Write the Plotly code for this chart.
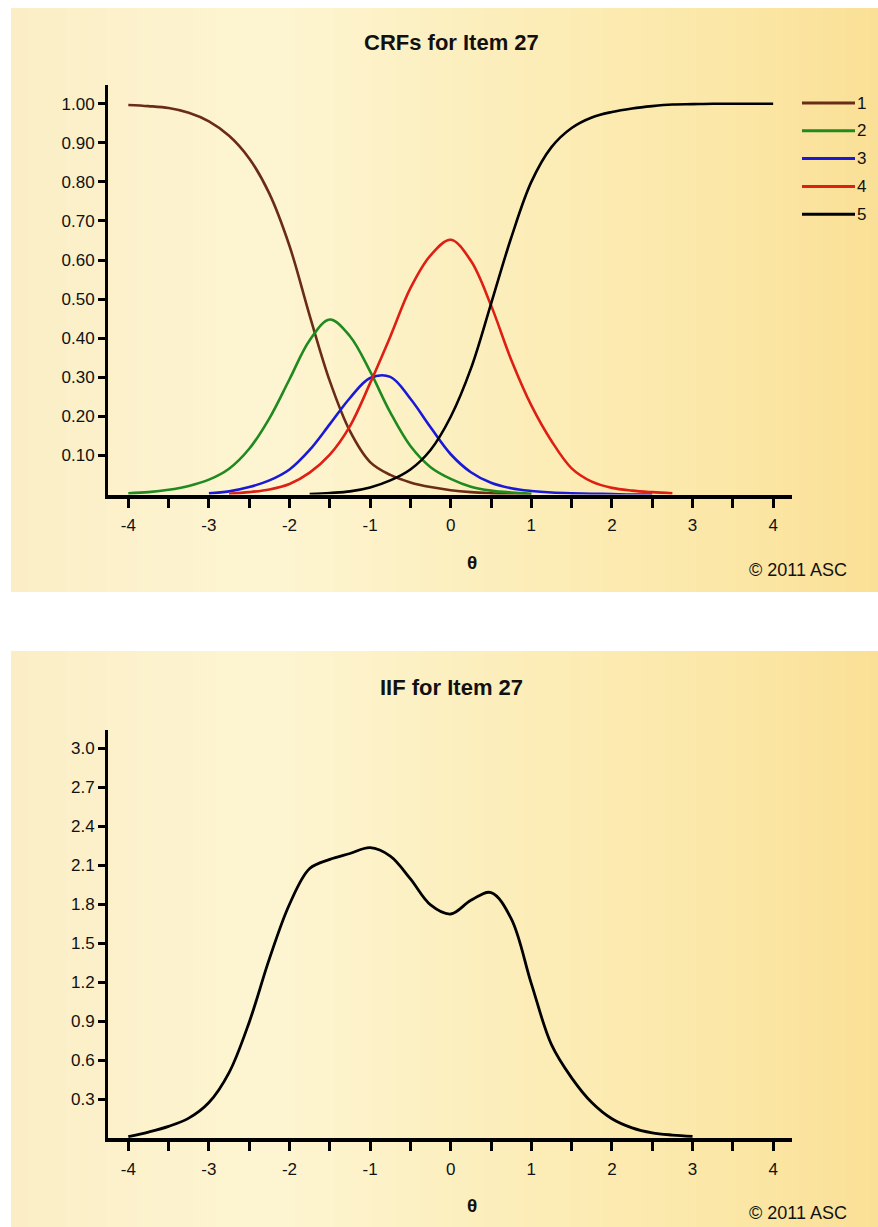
import plotly.graph_objects as go

# ---------------- data ----------------
theta_crf = [-4.0, -3.75, -3.5, -3.25, -3.0, -2.75, -2.5, -2.25, -2.0, -1.75, -1.5, -1.25,
             -1.0, -0.75, -0.5, -0.25, 0.0, 0.25, 0.5, 0.75, 1.0, 1.25, 1.5, 1.75,
             2.0, 2.25, 2.5, 2.75, 3.0, 3.25, 3.5, 3.75, 4.0]

cat1_x = theta_crf[:21]
cat1_y = [0.997, 0.994, 0.989, 0.977, 0.955, 0.918, 0.860, 0.770, 0.636, 0.458, 0.290, 0.162,
          0.083, 0.050, 0.031, 0.019, 0.011, 0.006, 0.003, 0.001, 0.0]

cat2_x = theta_crf[:21]
cat2_y = [0.003, 0.006, 0.012, 0.022, 0.038, 0.066, 0.117, 0.195, 0.295, 0.395, 0.448, 0.405,
          0.315, 0.210, 0.124, 0.070, 0.040, 0.020, 0.010, 0.005, 0.002]

cat3_x = theta_crf[4:27]
cat3_y = [0.003, 0.008, 0.019, 0.036, 0.064, 0.114, 0.180, 0.247, 0.298, 0.301, 0.245, 0.172,
          0.103, 0.057, 0.030, 0.016, 0.009, 0.005, 0.003, 0.002, 0.001, 0.0, 0.0]

cat4_x = theta_crf[5:28]
cat4_y = [0.002, 0.006, 0.013, 0.027, 0.056, 0.102, 0.175, 0.285, 0.404, 0.528, 0.612, 0.652,
          0.598, 0.484, 0.345, 0.228, 0.137, 0.067, 0.033, 0.017, 0.010, 0.006, 0.003]

cat5_x = theta_crf[9:]
cat5_y = [0.001, 0.004, 0.008, 0.018, 0.036, 0.064, 0.114, 0.199, 0.322, 0.488, 0.657, 0.800,
          0.889, 0.938, 0.965, 0.979, 0.988, 0.994, 0.998, 0.999, 1.0, 1.0, 1.0, 1.0]

category_names = ["1", "2", "3", "4", "5"]
category_colors = ["#6a2c16", "#1f8a1f", "#1a1ad6", "#dd1f14", "#000000"]

theta_iif = [-4.0, -3.75, -3.5, -3.25, -3.0, -2.75, -2.5, -2.25, -2.0, -1.75, -1.5, -1.25,
             -1.0, -0.75, -0.5, -0.25, 0.0, 0.25, 0.5, 0.75, 1.0, 1.25, 1.5, 1.75,
             2.0, 2.25, 2.5, 2.75, 3.0]
iif_y = [0.012, 0.048, 0.092, 0.155, 0.275, 0.505, 0.893, 1.380, 1.800, 2.075, 2.145, 2.190,
         2.235, 2.170, 1.995, 1.795, 1.725, 1.830, 1.890, 1.690, 1.190, 0.720, 0.465, 0.275,
         0.150, 0.080, 0.042, 0.025, 0.015]

crf_ticks = [0.1, 0.2, 0.3, 0.4, 0.5, 0.6, 0.7, 0.8, 0.9, 1.0]
iif_ticks = [0.3, 0.6, 0.9, 1.2, 1.5, 1.8, 2.1, 2.4, 2.7, 3.0]
x_ticks = [-4, -3.5, -3, -2.5, -2, -1.5, -1, -0.5, 0, 0.5, 1, 1.5, 2, 2.5, 3, 3.5, 4]

top_title = "CRFs for Item 27"
bottom_title = "IIF for Item 27"
x_title = "θ"
credit = "© 2011 ASC"

# ---------------- layout helpers ----------------
W, H = 878, 1227
FONT = "Liberation Sans, Arial, sans-serif"


def px(x):
    return x / W


def py(y):
    return 1 - y / H


fig = go.Figure()

crf_series = [(cat1_x, cat1_y), (cat2_x, cat2_y), (cat3_x, cat3_y), (cat4_x, cat4_y), (cat5_x, cat5_y)]
for (xs, ys), name, col in zip(crf_series, category_names, category_colors):
    fig.add_trace(go.Scatter(x=xs, y=ys, mode="lines", name=name,
                             line=dict(color=col, width=2.6, shape="spline", smoothing=1.0),
                             xaxis="x", yaxis="y", showlegend=False))

fig.add_trace(go.Scatter(x=theta_iif, y=iif_y, mode="lines", name="IIF",
                         line=dict(color="#000000", width=2.8, shape="spline", smoothing=1.0),
                         xaxis="x2", yaxis="y2", showlegend=False))

# ---------------- background gradient panels ----------------
stops = [(0.0, (251, 238, 198)), (0.3, (253, 245, 210)), (0.6, (252, 237, 184)),
         (0.85, (251, 230, 165)), (1.0, (250, 224, 150))]


def grad(t):
    for (t0, c0), (t1, c1) in zip(stops[:-1], stops[1:]):
        if t <= t1:
            f = (t - t0) / (t1 - t0)
            return "rgb(%d,%d,%d)" % tuple(round(a + (b - a) * f) for a, b in zip(c0, c1))
    return "rgb(%d,%d,%d)" % stops[-1][1]


shapes = []
panels = [(11, 8, 878, 592), (11, 651, 878, 1227)]
N = 110
for (x0, y0, x1, y1) in panels:
    step = (x1 - x0) / N
    for i in range(N):
        xa = x0 + i * step
        xb = min(x1, xa + step + 1)
        shapes.append(dict(type="rect", xref="paper", yref="paper", layer="below",
                           x0=px(xa), x1=px(xb), y0=py(y1), y1=py(y0),
                           fillcolor=grad((i + 0.5) / N), line=dict(width=0)))

# ---------------- manual legend ----------------
annotations = []
for i, (name, col) in enumerate(zip(category_names, category_colors)):
    yy = 103 + i * 27.8
    shapes.append(dict(type="line", xref="paper", yref="paper", x0=px(802), x1=px(855),
                       y0=py(yy), y1=py(yy), line=dict(color=col, width=3)))
    annotations.append(dict(x=px(855), y=py(yy), xref="paper", yref="paper", text=name,
                            showarrow=False, xanchor="left", yanchor="middle",
                            font=dict(family=FONT, size=17, color="#111111")))

for title, ty in [(top_title, 43), (bottom_title, 687)]:
    annotations.append(dict(x=px(451), y=py(ty), xref="paper", yref="paper", text="<b>%s</b>" % title,
                            showarrow=False, xanchor="center", yanchor="middle",
                            font=dict(family=FONT, size=22, color="#111111")))
for ty in (562, 1205):
    annotations.append(dict(x=px(472), y=py(ty), xref="paper", yref="paper", text="<b>%s</b>" % x_title,
                            showarrow=False, xanchor="center", yanchor="middle",
                            font=dict(family=FONT, size=19, color="#111111")))
for ty in (570, 1213):
    annotations.append(dict(x=px(849), y=py(ty), xref="paper", yref="paper", text=credit,
                            showarrow=False, xanchor="right", yanchor="middle",
                            font=dict(family=FONT, size=18, color="#111111")))

x_text = [("%d" % v) if float(v).is_integer() else "" for v in x_ticks]

xaxis_common = dict(range=[-4.252, 4.234], showgrid=False, zeroline=False, showline=True,
                    linecolor="#000000", linewidth=4, ticks="outside", ticklen=9, tickwidth=2.5,
                    tickcolor="#000000", tickvals=x_ticks, ticktext=x_text,
                    tickfont=dict(family=FONT, size=17, color="#111111"),
                    ticklabelstandoff=3, fixedrange=True)
yaxis_common = dict(showgrid=False, zeroline=False, showline=True, linecolor="#000000",
                    linewidth=3, ticks="outside", ticklen=7, tickwidth=2.5, tickcolor="#000000",
                    tickfont=dict(family=FONT, size=17, color="#111111"), fixedrange=True)

fig.update_layout(
    width=W, height=H, autosize=False,
    margin=dict(l=0, r=0, t=0, b=0, pad=0),
    paper_bgcolor="#ffffff", plot_bgcolor="rgba(0,0,0,0)",
    showlegend=False,
    xaxis=dict(domain=[px(108), px(792)], anchor="y", **xaxis_common),
    yaxis=dict(domain=[py(494.5), py(85)], anchor="x", range=[0, 1.048],
               tickvals=crf_ticks, ticktext=["%.2f" % v for v in crf_ticks], **yaxis_common),
    xaxis2=dict(domain=[px(108), px(792)], anchor="y2", **xaxis_common),
    yaxis2=dict(domain=[py(1138.3), py(730)], anchor="x2", range=[0, 3.14],
                tickvals=iif_ticks, ticktext=["%.1f" % v for v in iif_ticks], **yaxis_common),
    shapes=shapes,
    annotations=annotations,
)

fig.write_html("out.html")
